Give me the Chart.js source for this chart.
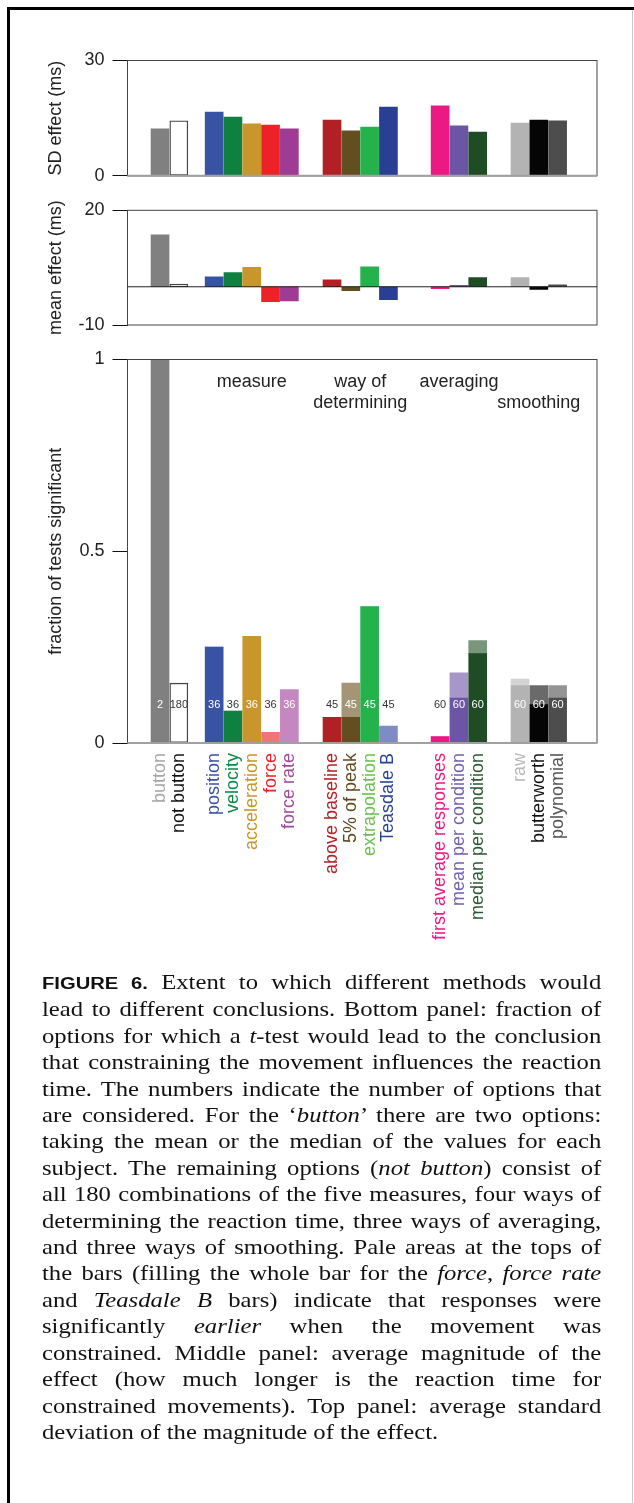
<!DOCTYPE html>
<html>
<head>
<meta charset="utf-8">
<title>Figure 6</title>
<script src="https://cdn.jsdelivr.net/npm/chart.js@4.4.1/dist/chart.umd.min.js"></script>
<style>
  html, body { margin: 0; padding: 0; background: #fff; }
  #page { position: relative; width: 634px; height: 1503px; overflow: hidden; background: #fff; }
  .rule { position: absolute; background: #000; }
  canvas { position: absolute; left: 0; }
  #caption {
    position: absolute; left: 42px; top: 969px; width: 476px;
    transform: scaleX(1.175); transform-origin: 0 0;
    font-family: "Liberation Serif", "Times New Roman", serif;
    font-size: 21px; line-height: 26.4px; color: #111;
  }
  #caption div { text-align: justify; text-align-last: justify; white-space: nowrap; }
  #caption div.last { text-align: left; text-align-last: left; }
  #caption .fig { font-family: "Liberation Sans", Arial, sans-serif; font-weight: bold; font-size: 17.2px; }
</style>
</head>
<body>
<div id="page">
  <div class="rule" style="left:7px;top:7px;width:627px;height:3px;"></div>
  <div class="rule" style="left:7px;top:7px;width:3px;height:1496px;"></div>
  <div class="rule" style="left:632px;top:10px;width:1px;height:1493px;background:#c8c8c8;"></div>

  <canvas id="sdChart" width="634" height="190" style="top:0px;"></canvas>
  <canvas id="meanChart" width="634" height="140" style="top:195px;"></canvas>
  <canvas id="fracChart" width="634" height="635" style="top:335px;"></canvas>

  <div id="caption">
    <div><span class="fig">FIGURE 6.</span> Extent to which different methods would</div>
    <div>lead to different conclusions. Bottom panel: fraction of</div>
    <div>options for which a <i>t</i>-test would lead to the conclusion</div>
    <div>that constraining the movement influences the reaction</div>
    <div>time. The numbers indicate the number of options that</div>
    <div>are considered. For the ‘<i>button</i>’ there are two options:</div>
    <div>taking the mean or the median of the values for each</div>
    <div>subject. The remaining options (<i>not button</i>) consist of</div>
    <div>all 180 combinations of the five measures, four ways of</div>
    <div>determining the reaction time, three ways of averaging,</div>
    <div>and three ways of smoothing. Pale areas at the tops of</div>
    <div>the bars (filling the whole bar for the <i>force</i>, <i>force rate</i></div>
    <div>and <i>Teasdale B</i> bars) indicate that responses were</div>
    <div>significantly <i>earlier</i> when the movement was</div>
    <div>constrained. Middle panel: average magnitude of the</div>
    <div>effect (how much longer is the reaction time for</div>
    <div>constrained movements). Top panel: average standard</div>
    <div class="last">deviation of the magnitude of the effect.</div>
  </div>
</div>

<script>
// ---- data ----
const categories = ['button', 'not button',
  'position', 'velocity', 'acceleration', 'force', 'force rate',
  'above baseline', '5% of peak', 'extrapolation', 'Teasdale B',
  'first average responses', 'mean per condition', 'median per condition',
  'raw', 'butterworth', 'polynomial'];
// which choice each option belongs to (0 = button / not button)
const groupOf = [0, 0, 1, 1, 1, 1, 1, 2, 2, 2, 2, 3, 3, 3, 4, 4, 4];
const groupHeaders = [[], ['measure'], ['way of', 'determining'], ['averaging'], ['', 'smoothing']];

// top panel: SD of the effect (ms)
const sdEffect = [12.2, 14.3, 16.6, 15.3, 13.5, 13.2, 12.2, 14.5, 11.7, 12.7, 17.9, 18.2, 13.0, 11.4, 13.7, 14.5, 14.3];
// middle panel: mean effect (ms)
const meanEffect = [13.6, 0.7, 2.6, 3.7, 5.1, -3.9, -3.7, 1.8, -1.0, 5.2, -3.4, -0.5, 0.35, 2.4, 2.4, -0.7, 0.5];
// bottom panel: fraction of tests significant, split into later (dark) and earlier (pale) responses
const fractionLater   = [1.0, 0.156, 0.25, 0.083, 0.278, 0, 0, 0.067, 0.067, 0.356, 0, 0.017, 0.117, 0.233, 0.15, 0.10, 0.117];
const fractionEarlier = [0, 0, 0, 0, 0, 0.028, 0.139, 0, 0.089, 0, 0.044, 0, 0.066, 0.034, 0.017, 0.05, 0.033];
// number of options considered for each bar
const optionCounts = [2, 180, 36, 36, 36, 36, 36, 45, 45, 45, 45, 60, 60, 60, 60, 60, 60];

const sdTicks = [0, 30];
const meanTicks = [-10, 20];
const fractionTicks = [0, 0.5, 1];

// ---- styles ----
const barColors = ['#808080', '#ffffff', '#3953a4', '#0f8040', '#c8962a', '#ec2227', '#9f3a95',
  '#b02025', '#634e21', '#25b14b', '#293f94', '#ec1985', '#6b55a4', '#1f4b25', '#b3b3b3', '#050505', '#4d4d4d'];
const paleColors = ['#c0c0c0', '#ffffff', '#9ca9d2', '#87c09f', '#e3ca94', '#f27479', '#c487bf',
  '#d78f92', '#a49577', '#92d8a5', '#7e8bc4', '#f58cc2', '#a697c8', '#79957b', '#d3d3d3', '#6a6a6a', '#949494'];
const labelColors = ['#a6a6a6', '#111111', '#3953a4', '#0c8a43', '#c8962a', '#ec2227', '#a04a9e',
  '#b52127', '#5e4a1f', '#6ac14f', '#2b4296', '#ec1a85', '#7361ae', '#2a5a30', '#b8b8b8', '#111111', '#555555'];
const outlined = categories.map(c => c === 'not button');

// horizontal layout: start slot of each group on the x scale
const groupStart = [0, 2.88, 9.15, 14.9, 19.15];
const xPos = [];
{
  const seen = {};
  groupOf.forEach(g => { seen[g] = (seen[g] || 0); xPos.push(groupStart[g] + seen[g]); seen[g]++; });
}
const X_MIN = -1.73, X_MAX = 23.245;
const AXIS_W = 127.5;

Chart.defaults.font.family = '"Liberation Sans", Arial, Helvetica, sans-serif';
Chart.defaults.font.size = 18;
Chart.defaults.color = '#222';

// frame, baseline and rotated y title
const panelDecor = {
  id: 'panelDecor',
  afterDatasetsDraw(chart, args, opts) {
    const { ctx, chartArea: a, scales } = chart;
    ctx.save();
    ctx.strokeStyle = '#444';
    ctx.lineWidth = 1;
    ctx.strokeRect(a.left, a.top, a.right - a.left, a.bottom - a.top);
    const y0 = scales.y.getPixelForValue(0);
    ctx.strokeStyle = opts.zeroColor;
    ctx.lineWidth = opts.zeroWidth;
    ctx.beginPath();
    ctx.moveTo(a.left, y0);
    ctx.lineTo(a.right, y0);
    ctx.stroke();
    // y axis title
    ctx.fillStyle = '#222';
    ctx.font = '18px "Liberation Sans", Arial, sans-serif';
    ctx.textAlign = 'center';
    ctx.textBaseline = 'middle';
    ctx.translate(56, (a.top + a.bottom) / 2);
    ctx.rotate(-Math.PI / 2);
    ctx.fillText(opts.title, 0, 0);
    ctx.restore();
  }
};

// option counts and group headers in the bottom panel
const fractionNotes = {
  id: 'fractionNotes',
  afterDatasetsDraw(chart) {
    const { ctx, chartArea: a, scales } = chart;
    ctx.save();
    ctx.font = '11px "Liberation Sans", Arial, sans-serif';
    ctx.textAlign = 'center';
    ctx.textBaseline = 'middle';
    const yLab = scales.y.getPixelForValue(0.1);
    optionCounts.forEach((n, i) => {
      const total = fractionLater[i] + fractionEarlier[i];
      ctx.fillStyle = (total > 0.12 && !outlined[i]) ? '#ffffff' : '#333333';
      ctx.fillText(String(n), scales.x.getPixelForValue(xPos[i]), yLab);
    });
    ctx.font = '18px "Liberation Sans", Arial, sans-serif';
    ctx.fillStyle = '#222';
    ctx.textBaseline = 'alphabetic';
    groupHeaders.forEach((lines, g) => {
      const members = xPos.filter((_, i) => groupOf[i] === g);
      if (!lines.length) return;
      const cx = scales.x.getPixelForValue((members[0] + members[members.length - 1]) / 2);
      lines.forEach((t, k) => { if (t) ctx.fillText(t, cx, a.top + 27.2 + k * 21.6); });
    });
    ctx.restore();
  }
};

function xScale(showLabels) {
  const s = {
    type: 'linear', min: X_MIN, max: X_MAX, offset: false, stacked: true,
    display: showLabels,
    afterBuildTicks: sc => { sc.ticks = xPos.map(v => ({ value: v })); },
    grid: { display: false, drawTicks: false },
    border: { display: false },
    ticks: {
      autoSkip: false, minRotation: 90, maxRotation: 90, padding: 10,
      color: c => labelColors[c.index],
      callback: (v, i) => categories[i]
    }
  };
  if (showLabels) s.afterFit = sc => { sc.height = 227; };
  return s;
}

function yScale(min, max, tickValues, stacked) {
  return {
    min, max, stacked: !!stacked,
    afterBuildTicks: s => { s.ticks = tickValues.map(v => ({ value: v })); },
    grid: { drawOnChartArea: false, drawTicks: true, tickLength: 15, color: '#111', lineWidth: 1 },
    border: { display: false },
    ticks: { padding: 8, color: '#222', callback: v => String(v) },
    afterFit: s => { s.width = AXIS_W; s.paddingTop = 0; s.paddingBottom = 0; }
  };
}

function points(values) { return values.map((v, i) => ({ x: xPos[i], y: v })); }

const barStyle = {
  barThickness: 18,
  borderColor: '#444',
  borderWidth: outlined.map(o => o ? 1.3 : 0),
  borderSkipped: false
};

const common = {
  responsive: false, animation: false, events: [],
  plugins: { legend: { display: false }, tooltip: { enabled: false } }
};

new Chart(document.getElementById('sdChart'), {
  type: 'bar',
  data: { datasets: [{ data: points(sdEffect), backgroundColor: barColors, ...barStyle }] },
  options: {
    ...common,
    layout: { padding: { top: 60.5, right: 37, bottom: 14.2, left: 0 } },
    scales: { x: xScale(false), y: yScale(0, 30, sdTicks) },
    plugins: { ...common.plugins, panelDecor: { title: 'SD effect (ms)', zeroColor: '#a0a0a0', zeroWidth: 2 } }
  },
  plugins: [panelDecor]
});

new Chart(document.getElementById('meanChart'), {
  type: 'bar',
  data: { datasets: [{ data: points(meanEffect), backgroundColor: barColors, ...barStyle }] },
  options: {
    ...common,
    layout: { padding: { top: 15.3, right: 37, bottom: 10, left: 0 } },
    scales: { x: xScale(false), y: yScale(-10, 20, meanTicks) },
    plugins: { ...common.plugins, panelDecor: { title: 'mean effect (ms)', zeroColor: '#222', zeroWidth: 1 } }
  },
  plugins: [panelDecor]
});

new Chart(document.getElementById('fracChart'), {
  type: 'bar',
  data: {
    datasets: [
      { data: points(fractionLater), backgroundColor: barColors, ...barStyle },
      { data: points(fractionEarlier), backgroundColor: paleColors, barThickness: 18, borderWidth: 0 }
    ]
  },
  options: {
    ...common,
    layout: { padding: { top: 24.5, right: 37, bottom: 0, left: 0 } },
    scales: { x: xScale(true), y: yScale(0, 1, fractionTicks, true) },
    plugins: { ...common.plugins, panelDecor: { title: 'fraction of tests significant', zeroColor: '#a0a0a0', zeroWidth: 2 } }
  },
  plugins: [panelDecor, fractionNotes]
});
</script>
</body>
</html>
